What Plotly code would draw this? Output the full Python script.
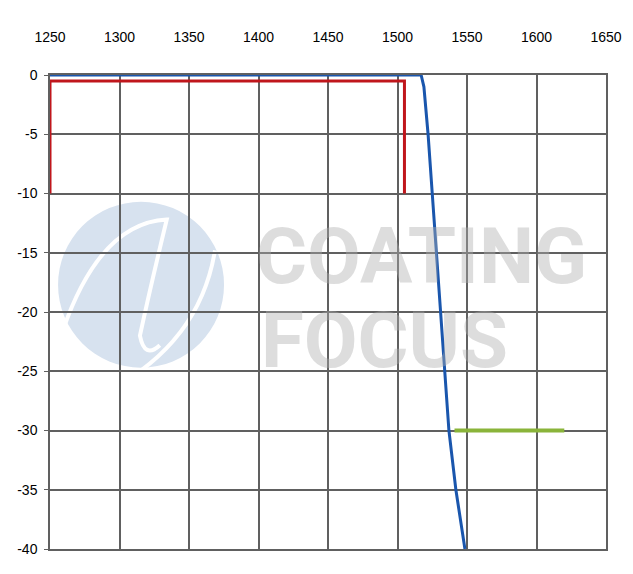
import plotly.graph_objects as go

# Data
x_ticks = [1250, 1300, 1350, 1400, 1450, 1500, 1550, 1600, 1650]
y_ticks = [0, -5, -10, -15, -20, -25, -30, -35, -40]

red_x = [1250, 1250, 1505, 1505]
red_y = [-10, -0.5, -0.5, -10]

blue_x = [1250, 1517, 1519, 1522, 1525, 1531, 1537, 1542, 1548.5]
blue_y = [0, 0, -1, -5, -10, -20, -30, -35, -40]

green_x = [1541, 1620]
green_y = [-30, -30]

fig = go.Figure()

fig.add_trace(go.Scatter(x=red_x, y=red_y, mode="lines",
                         line=dict(color="#c0161c", width=3), hoverinfo="skip"))
fig.add_trace(go.Scatter(x=green_x, y=green_y, mode="lines",
                         line=dict(color="#8ab43a", width=4), hoverinfo="skip"))
fig.add_trace(go.Scatter(x=blue_x, y=blue_y, mode="lines",
                         line=dict(color="#1a56ad", width=3), hoverinfo="skip"))

# Watermark logo (circle) below the grid
fig.add_shape(type="circle", xref="x", yref="y",
              x0=1255.8, x1=1375.2, y0=-24.7, y1=-10.7,
              fillcolor="#d7e2ef", line=dict(width=0), layer="below")
fig.add_shape(type="path", xref="x", yref="y",
              path="M 1259.4,-21.5 Q 1286,-12.5 1334,-12.2 Q 1322,-18 1314.7,-22 Q 1318,-24 1329,-22.8",
              line=dict(color="white", width=4), fillcolor="rgba(0,0,0,0)", layer="below")
fig.add_shape(type="path", xref="x", yref="y",
              path="M 1293,-26.6 Q 1358,-22.5 1368.7,-14.8",
              line=dict(color="white", width=4), fillcolor="rgba(0,0,0,0)", layer="below")

# Watermark text
wm_font = dict(family="Roboto", size=78, color="rgba(175,175,175,0.42)", weight="bold")
fig.add_annotation(text="COATING", showarrow=False, font=wm_font,
                   xref="paper", yref="paper",
                   x=(421 - 50) / 556, y=(549 - 256) / 474,
                   xanchor="center", yanchor="middle")
fig.add_annotation(text="FOCUS", showarrow=False, font=wm_font,
                   xref="paper", yref="paper",
                   x=(384 - 50) / 556, y=(549 - 340) / 474,
                   xanchor="center", yanchor="middle")

grid_col = "#606060"
tick_font = dict(family="Liberation Sans", size=14, color="black")
fig.update_xaxes(range=[1250, 1650], side="top", tickvals=x_ticks,
                 ticktext=[str(v) for v in x_ticks],
                 showgrid=True, gridcolor=grid_col, gridwidth=1.5,
                 showline=True, linecolor=grid_col, linewidth=1.5, mirror=True,
                 zeroline=False, ticks="", ticklabelstandoff=26,
                 automargin=False, tickfont=tick_font)
fig.update_yaxes(range=[-40, 0], tickvals=y_ticks,
                 ticktext=[str(v) for v in y_ticks],
                 showgrid=True, gridcolor=grid_col, gridwidth=1.5,
                 showline=True, linecolor=grid_col, linewidth=1.5, mirror=True,
                 zeroline=False, ticks="outside", ticklen=4, tickcolor=grid_col,
                 ticklabelstandoff=4, automargin=False, tickfont=tick_font)

fig.update_layout(width=633, height=574,
                  margin=dict(l=42, r=35, t=67, b=33),
                  paper_bgcolor="white", plot_bgcolor="white",
                  showlegend=False)

fig.write_html("out.html")
